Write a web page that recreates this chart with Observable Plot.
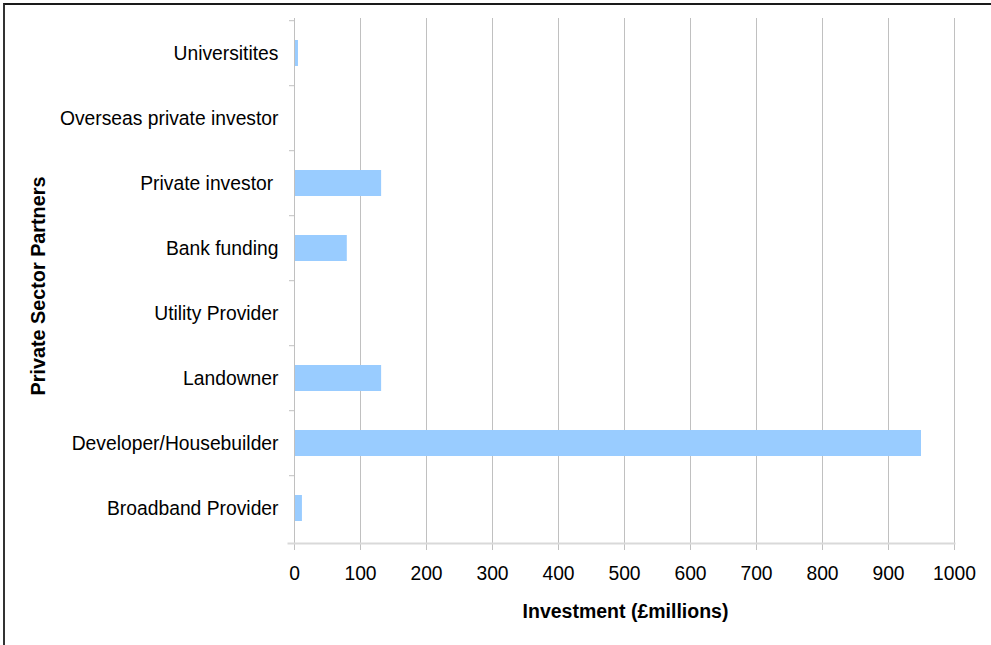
<!DOCTYPE html>
<html><head><meta charset="utf-8">
<script src="https://cdn.jsdelivr.net/npm/d3@7"></script>
<script src="https://cdn.jsdelivr.net/npm/@observablehq/plot@0.6"></script>
<style>
body{margin:0;background:#fff;}
#wrap{position:relative;width:991px;height:645px;overflow:hidden;}
#border{position:absolute;left:3px;top:3px;width:1100px;height:800px;border-top:2px solid #1a1a1a;border-left:2px solid #333;pointer-events:none;}
#chart{position:absolute;left:0;top:0;}
</style></head><body>
<div id="wrap"><div id="chart"></div><div id="border"></div></div>
<script>
const categories = ["Universitites", "Overseas private investor", "Private investor\u00a0", "Bank funding", "Utility Provider", "Landowner", "Developer/Housebuilder", "Broadband Provider"];
const values = [6, 0, 132, 80, 0, 132, 950, 12];
const xTicks = [0, 100, 200, 300, 400, 500, 600, 700, 800, 900, 1000];
const xTitle = "Investment (£millions)";
const yTitle = "Private Sector Partners";

const data = categories.map((c, i) => ({partner: c, value: values[i]}));
const font = "'Liberation Sans', Arial, sans-serif";

const chart = Plot.plot({
  width: 991, height: 645,
  marginLeft: 294, marginRight: 37, marginTop: 18, marginBottom: 102,
  style: {fontFamily: font, fontSize: "19.3px", color: "#000", background: "transparent", overflow: "visible"},
  x: {domain: [0, 1000]},
  y: {domain: categories, paddingInner: 0.6, paddingOuter: 0.3},
  marks: [
    Plot.ruleX(xTicks, {stroke: "#c0c0c0", strokeWidth: 1, insetBottom: -7}),
    Plot.barX(data, {y: "partner", x: "value", fill: "#99ccff"}),
    Plot.frame({anchor: "left", stroke: "#c0c0c0", strokeWidth: 1}),
    Plot.frame({anchor: "bottom", stroke: "#d9d9d9", strokeWidth: 2, insetLeft: -6}),
    Plot.axisY({tickSize: 5, tickFormat: () => "", dy: -32.8, stroke: "#c0c0c0", label: null}),
    Plot.axisY({tickSize: 0, tickPadding: 16, label: null, fontSize: 19.3, fill: "#000"}),
    Plot.axisX({ticks: xTicks, tickFormat: d => String(d), tickSize: 0, tickPadding: 23, label: null, fontSize: 19.3, fill: "#000"}),
    Plot.text([xTitle], {text: d => d, frameAnchor: "bottom", textAnchor: "middle", lineAnchor: "middle", dy: 68, dx: 1, fontWeight: "bold", fontSize: 19.5, fill: "#000"}),
    Plot.text([yTitle], {text: d => d, frameAnchor: "left", textAnchor: "middle", lineAnchor: "middle", rotate: -90, dx: -256, dy: 5, fontWeight: "bold", fontSize: 19.8, fill: "#000"})
  ]
});
document.getElementById("chart").append(chart);
</script>
</body></html>
